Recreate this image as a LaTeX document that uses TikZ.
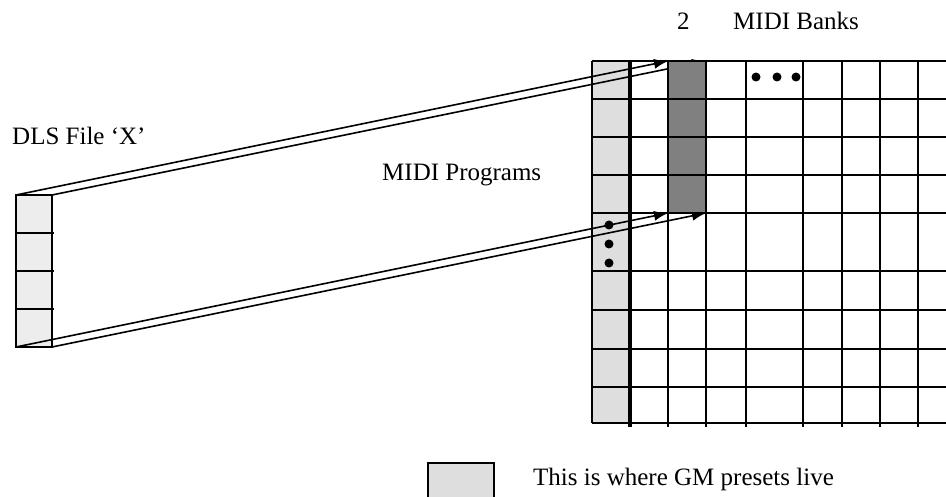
\documentclass[tikz,border=0pt]{standalone}
\usepackage{fontspec}
\setmainfont{Liberation Serif}
\usetikzlibrary{arrows.meta}
\begin{document}
\begin{tikzpicture}[x=1pt,y=-1pt,
  gridline/.style={line width=2pt},
  proj/.style={line width=1.6pt,-{Latex[length=14pt,width=10pt]}},
  lbl/.style={font=\fontsize{25}{30}\selectfont, inner sep=0pt, anchor=base west},
  dotmark/.style={circle,fill=black,inner sep=0pt,minimum size=9pt}]
\useasboundingbox (0,0) rectangle (946,497);
% light grey GM column
\fill[black!13] (592,61) rectangle (630,423);
% DLS file
\node[draw, line width=2pt, fill=black!7, minimum width=36pt, minimum height=152pt,
      outer sep=0pt, inner sep=0pt] (dls) at (34,271) {};
\foreach \y in {233,271,309} \draw[line width=2pt] (16,\y) -- (54,\y);
% target bank column
\node[minimum width=38pt, minimum height=152pt, outer sep=0pt, inner sep=0pt] (bank) at (687,137) {};
\draw[proj] (dls.north west) -- (bank.north west);
\draw[proj] (dls.north east) -- (bank.north east);
\draw[proj] (dls.south west) -- (bank.south west);
\draw[proj] (dls.south east) -- (bank.south east);
\fill[black!50] (bank.north west) rectangle (bank.south east);
% grid
\foreach \y in {61,99,137,175,213,271,310,349,387,423}
  \draw[gridline] (592,\y) -- (946,\y);
\draw[gridline] (592,61) -- (592,423);
\foreach \x in {668,706,746,803,842,880,918}
  \draw[gridline] (\x,61) -- (\x,427);
\draw[line width=4pt] (630,61) -- (630,427);
% dots
\node[dotmark] (d1) at (756,77) {};
\node[dotmark] (d2) at (777,77) {};
\node[dotmark] (d3) at (796,77) {};
\node[dotmark] (v1) at (609,225) {};
\node[dotmark] (v2) at (609,244) {};
\node[dotmark] (v3) at (609,263) {};
% labels
\node[lbl] (dlslabel) at (12,145) {DLS File ‘X’};
\node[lbl] (proglabel) at (382,181) {MIDI Programs};
\node[lbl] (two) at (677,30) {2};
\node[lbl] (banks) at (733,30) {MIDI Banks};
% legend
\node[draw, line width=2pt, fill=black!13, minimum width=66pt, minimum height=40pt,
      outer sep=0pt, inner sep=0pt] (legend) at (461,483) {};
\node[lbl] (legtext) at (533,485) {This is where GM presets live};
\end{tikzpicture}
\end{document}
